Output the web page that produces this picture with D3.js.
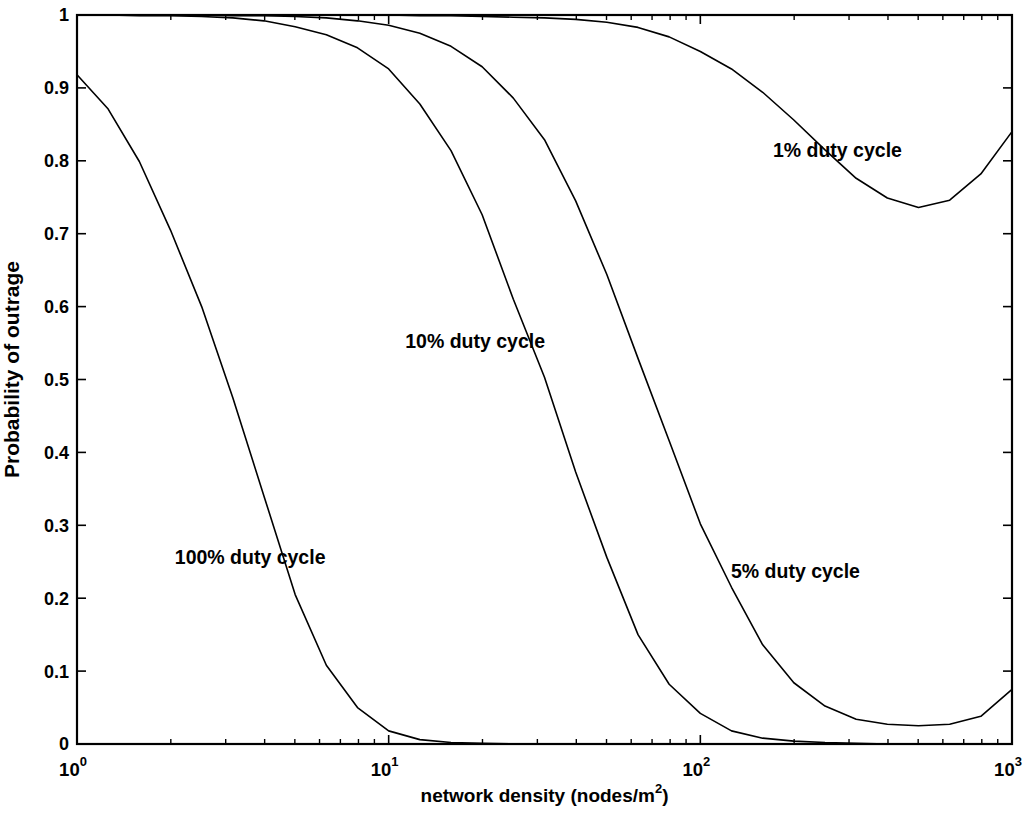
<!DOCTYPE html>
<html>
<head>
<meta charset="utf-8">
<script src="https://cdn.jsdelivr.net/npm/d3@7"></script>
<style>
  html, body { margin: 0; padding: 0; background: #fff; }
  svg { display: block; }
  text { font-family: "Liberation Sans", Arial, Helvetica, sans-serif; font-weight: bold; fill: #000; }
</style>
</head>
<body>
<svg id="chart" width="1031" height="813"></svg>
<script>
// Node density samples (nodes/m^2), ten per decade
const density = [1, 1.259, 1.585, 1.995, 2.512, 3.162, 3.981, 5.012, 6.310, 7.943,
  10, 12.59, 15.85, 19.95, 25.12, 31.62, 39.81, 50.12, 63.10, 79.43,
  100, 125.9, 158.5, 199.5, 251.2, 316.2, 398.1, 501.2, 631.0, 794.3, 1000];

// Probability of outage for each duty cycle
const duty100 = [0.918, 0.871, 0.799, 0.705, 0.600, 0.475, 0.340, 0.205, 0.108, 0.050,
  0.018, 0.006, 0.002, 0.001, 0, 0, 0, 0, 0, 0,
  0, 0, 0, 0, 0, 0, 0, 0, 0, 0, 0];
const duty10 = [1, 1, 0.999, 0.999, 0.998, 0.996, 0.992, 0.984, 0.973, 0.955,
  0.926, 0.878, 0.814, 0.726, 0.610, 0.503, 0.373, 0.256, 0.150, 0.082,
  0.042, 0.018, 0.008, 0.004, 0.002, 0.001, 0, 0, 0, 0, 0];
const duty5 = [1, 1, 1, 1, 1, 0.999, 0.999, 0.998, 0.996, 0.992,
  0.986, 0.975, 0.957, 0.929, 0.886, 0.829, 0.745, 0.644, 0.529, 0.416,
  0.302, 0.215, 0.136, 0.084, 0.052, 0.034, 0.027, 0.025, 0.027, 0.038, 0.075];
const duty1 = [1, 1, 1, 1, 1, 1, 1, 1, 1, 1,
  1, 0.999, 0.999, 0.998, 0.997, 0.996, 0.994, 0.990, 0.983, 0.970,
  0.950, 0.926, 0.894, 0.856, 0.815, 0.776, 0.749, 0.736, 0.746, 0.782, 0.840];

// Curve annotations: [density, probability, text] (left-aligned, vertically centred)
const labelX = [2.06, 11.3, 125.4, 171];
const labelY = [0.257, 0.553, 0.237, 0.815];
const labelText = ["100% duty cycle", "10% duty cycle", "5% duty cycle", "1% duty cycle"];

const yTicks = [0, 0.1, 0.2, 0.3, 0.4, 0.5, 0.6, 0.7, 0.8, 0.9, 1];
const yTickLabels = ["0", "0.1", "0.2", "0.3", "0.4", "0.5", "0.6", "0.7", "0.8", "0.9", "1"];
const xMajor = [1, 10, 100, 1000];
const xMajorExp = ["0", "1", "2", "3"];

const margin = { left: 77, top: 15, right: 1031 - 1012, bottom: 813 - 744 };
const W = 1031, H = 813;
const iw = W - margin.left - margin.right;
const ih = H - margin.top - margin.bottom;

const svg = d3.select("#chart");
const g = svg.append("g").attr("transform", `translate(${margin.left},${margin.top})`);

const x = d3.scaleLog().domain([1, 1000]).range([0, iw]);
const y = d3.scaleLinear().domain([0, 1]).range([ih, 0]);

// Minor log ticks: 2..9 within each decade
const xMinor = x.ticks().filter(v => xMajor.indexOf(v) < 0);

const majorLen = 9, minorLen = 5;

// Curves
const line = d3.line().x((d, i) => x(density[i])).y(d => y(d));
[duty100, duty10, duty5, duty1].forEach(series => {
  g.append("path")
    .datum(series)
    .attr("d", line)
    .attr("fill", "none")
    .attr("stroke", "#000")
    .attr("stroke-width", 1.6)
    .attr("stroke-linejoin", "round");
});

// Inward ticks on all four sides
const tickG = g.append("g").attr("stroke", "#000");
yTicks.forEach(v => {
  tickG.append("line").attr("x1", 0).attr("x2", majorLen).attr("y1", y(v)).attr("y2", y(v)).attr("stroke-width", 1.6);
  tickG.append("line").attr("x1", iw).attr("x2", iw - majorLen).attr("y1", y(v)).attr("y2", y(v)).attr("stroke-width", 1.6);
});
xMajor.forEach(v => {
  tickG.append("line").attr("x1", x(v)).attr("x2", x(v)).attr("y1", ih).attr("y2", ih - majorLen).attr("stroke-width", 1.6);
  tickG.append("line").attr("x1", x(v)).attr("x2", x(v)).attr("y1", 0).attr("y2", majorLen).attr("stroke-width", 1.6);
});
xMinor.forEach(v => {
  tickG.append("line").attr("x1", x(v)).attr("x2", x(v)).attr("y1", ih).attr("y2", ih - minorLen).attr("stroke-width", 1.4);
  tickG.append("line").attr("x1", x(v)).attr("x2", x(v)).attr("y1", 0).attr("y2", minorLen).attr("stroke-width", 1.4);
});

// Frame
g.append("rect")
  .attr("x", 0).attr("y", 0).attr("width", iw).attr("height", ih)
  .attr("fill", "none").attr("stroke", "#000").attr("stroke-width", 2.2);

// Y tick labels
g.append("g").selectAll("text")
  .data(yTicks)
  .join("text")
  .attr("x", -8)
  .attr("y", d => y(d))
  .attr("dy", "0.36em")
  .attr("text-anchor", "end")
  .attr("font-size", 18)
  .text((d, i) => yTickLabels[i]);

// X tick labels: 10 with superscript exponent
const xl = g.append("g");
xMajor.forEach((v, i) => {
  const t = xl.append("text")
    .attr("x", x(v) - 4)
    .attr("y", ih + 32)
    .attr("text-anchor", "middle")
    .attr("font-size", 18.5);
  t.append("tspan").text("10");
  t.append("tspan").attr("font-size", 13).attr("dy", -10).text(xMajorExp[i]);
});

// Axis titles
const xt = g.append("text")
  .attr("x", iw / 2)
  .attr("y", ih + 58)
  .attr("text-anchor", "middle")
  .attr("font-size", 19);
xt.append("tspan").text("network density (nodes/m");
xt.append("tspan").attr("font-size", 13).attr("dy", -9).text("2");
xt.append("tspan").attr("dy", 9).text(")");

g.append("text")
  .attr("transform", `translate(${-58},${ih / 2 - 10}) rotate(-90)`)
  .attr("text-anchor", "middle")
  .attr("font-size", 21)
  .text("Probability of outrage");

// Curve annotations
g.append("g").selectAll("text")
  .data(labelText)
  .join("text")
  .attr("x", (d, i) => x(labelX[i]))
  .attr("y", (d, i) => y(labelY[i]))
  .attr("dy", "0.36em")
  .attr("font-size", 19.5)
  .text(d => d);
</script>
</body>
</html>
